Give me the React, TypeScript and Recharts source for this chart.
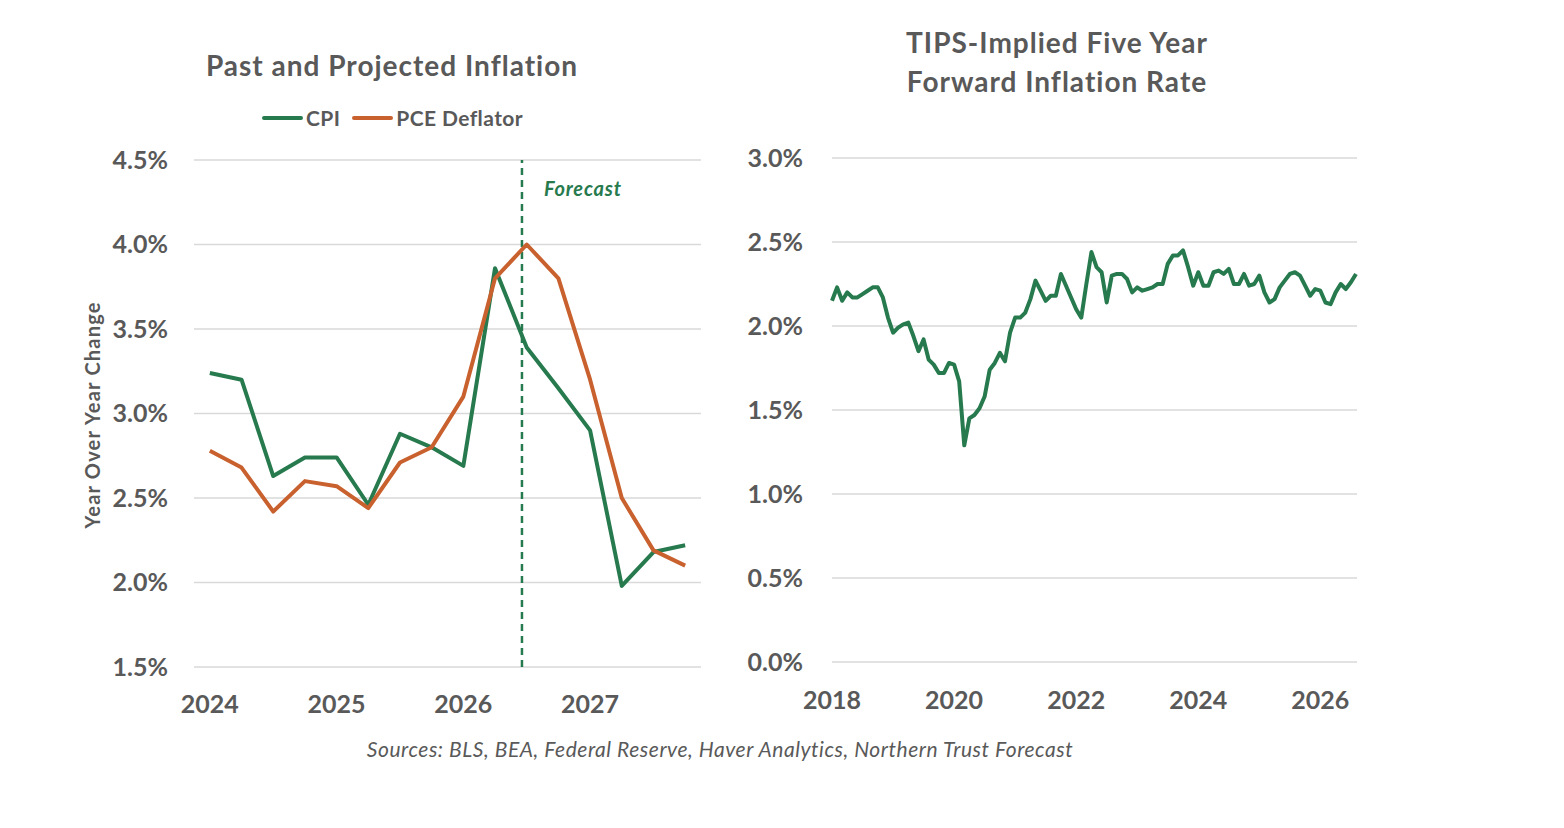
import React from 'react';
import {
  LineChart,
  Line,
  XAxis,
  YAxis,
  CartesianGrid,
  ReferenceLine
} from 'recharts';

// quarterly, 2024 Q1 .. 2027 Q4
const quarters = [
  '2024 Q1', '2024 Q2', '2024 Q3', '2024 Q4',
  '2025 Q1', '2025 Q2', '2025 Q3', '2025 Q4',
  '2026 Q1', '2026 Q2', '2026 Q3', '2026 Q4',
  '2027 Q1', '2027 Q2', '2027 Q3', '2027 Q4'
];
const cpi = [3.24, 3.2, 2.63, 2.74, 2.74, 2.46, 2.88, 2.8, 2.69, 3.86, 3.39, 3.15, 2.9, 1.98, 2.18, 2.22];
const pce = [2.78, 2.68, 2.42, 2.6, 2.57, 2.44, 2.71, 2.8, 3.1, 3.8, 4.0, 3.8, 3.2, 2.5, 2.19, 2.1];
const quarterTicks = [0, 4, 8, 12];
const quarterTickLabels = ['2024', '2025', '2026', '2027'];
const forecastStart = 9.85;
const inflationTicks = [1.5, 2.0, 2.5, 3.0, 3.5, 4.0, 4.5];

// monthly, Jan 2018 onward
const tipsStartYear = 2018;
const tips = [
  2.15, 2.23, 2.15, 2.2, 2.17, 2.17, 2.19, 2.21, 2.23, 2.23, 2.17, 2.05,
  1.96, 1.99, 2.01, 2.02, 1.94, 1.85, 1.92, 1.8, 1.77, 1.72, 1.72, 1.78,
  1.77, 1.67, 1.29, 1.45, 1.47, 1.51, 1.58, 1.74, 1.78, 1.84, 1.79, 1.96,
  2.05, 2.05, 2.08, 2.16, 2.27, 2.21, 2.15, 2.18, 2.18, 2.31, 2.24, 2.17,
  2.1, 2.05, 2.25, 2.44, 2.35, 2.32, 2.14, 2.3, 2.31, 2.31, 2.28, 2.2,
  2.23, 2.21, 2.22, 2.23, 2.25, 2.25, 2.37, 2.42, 2.42, 2.45, 2.35, 2.24,
  2.32, 2.24, 2.24, 2.32, 2.33, 2.31, 2.34, 2.25, 2.25, 2.31, 2.24, 2.25,
  2.3, 2.2, 2.14, 2.16, 2.23, 2.27, 2.31, 2.32, 2.3, 2.24, 2.18, 2.22,
  2.21, 2.14, 2.13, 2.2, 2.25, 2.22, 2.26, 2.31
];
const yearTicks = [2018, 2020, 2022, 2024, 2026];
const tipsTicks = [0, 0.5, 1.0, 1.5, 2.0, 2.5, 3.0];

const GREEN = '#277a4e';
const ORANGE = '#c9612f';
const GREY = '#595959';
const GRID = '#d9d9d9';
const FONT = 'Lato, "Open Sans", sans-serif';

const inflationData = quarters.map((q, i) => ({ idx: i, quarter: q, cpi: cpi[i], pce: pce[i] }));
const tipsData = tips.map((v, i) => ({ t: tipsStartYear + i / 12, value: v }));

const tickStyle = { fill: GREY, fontSize: 25, fontWeight: 700, fontFamily: FONT };
const pct = (v: number) => `${v.toFixed(1)}%`;

const ForecastLabel = (props: any) => {
  const { viewBox } = props;
  return (
    <text
      x={viewBox.x + 22}
      y={viewBox.y + 36}
      fill={GREEN}
      fontSize={20}
      fontStyle="italic"
      fontWeight={700}
      fontFamily={FONT}
      letterSpacing={0.8}
    >
      Forecast
    </text>
  );
};

const titleStyle: React.CSSProperties = {
  position: 'absolute',
  color: GREY,
  fontFamily: FONT,
  fontWeight: 700,
  fontSize: 28,
  textAlign: 'center',
  letterSpacing: 1,
  whiteSpace: 'nowrap'
};

export default function App() {
  return (
    <div style={{ position: 'absolute', left: 0, top: 0, width: 1564, height: 828, background: '#fff', fontFamily: FONT }}>
      <div style={{ ...titleStyle, left: 92, width: 600, top: 46, lineHeight: '38px' }}>
        Past and Projected Inflation
      </div>

      {/* legend */}
      <div style={{ position: 'absolute', left: 262, top: 105, display: 'flex', alignItems: 'center', color: GREY, fontWeight: 700, fontSize: 21, letterSpacing: 0.4, fontFamily: FONT }}>
        <span style={{ width: 41, height: 4, background: GREEN, borderRadius: 2, display: 'inline-block', marginRight: 3 }} />
        <span style={{ marginRight: 12 }}>CPI</span>
        <span style={{ width: 41, height: 4, background: ORANGE, borderRadius: 2, display: 'inline-block', marginRight: 3 }} />
        <span>PCE Deflator</span>
      </div>

      <div
        style={{
          position: 'absolute',
          left: 92,
          top: 415,
          transform: 'translate(-50%, -50%) rotate(-90deg)',
          color: GREY,
          fontWeight: 700,
          fontSize: 20,
          letterSpacing: 1.2,
          whiteSpace: 'nowrap'
        }}
      >
        Year Over Year Change
      </div>

      <div style={{ position: 'absolute', left: 0, top: 0 }}>
        <LineChart width={720} height={740} data={inflationData} margin={{ top: 160, right: 19, left: 94, bottom: 23 }}>
          <CartesianGrid vertical={false} stroke={GRID} strokeWidth={1.5} />
          <XAxis
            dataKey="idx"
            type="number"
            domain={[-0.5, 15.5]}
            ticks={quarterTicks}
            tickFormatter={(v: number) => quarterTickLabels[quarterTicks.indexOf(v)]}
            axisLine={false}
            tickLine={false}
            tickSize={0}
            tickMargin={28}
            height={50}
            tick={tickStyle}
            interval={0}
          />
          <YAxis
            domain={[1.5, 4.5]}
            ticks={inflationTicks}
            tickFormatter={pct}
            axisLine={false}
            tickLine={false}
            tickSize={0}
            tickMargin={26}
            width={100}
            tick={tickStyle}
            interval={0}
          />
          <ReferenceLine
            x={forecastStart}
            stroke={GREEN}
            strokeWidth={2.5}
            strokeDasharray="7 5"
            label={<ForecastLabel />}
          />
          <Line dataKey="cpi" stroke={GREEN} strokeWidth={4} dot={false} isAnimationActive={false} strokeLinejoin="round" />
          <Line dataKey="pce" stroke={ORANGE} strokeWidth={4} dot={false} isAnimationActive={false} strokeLinejoin="round" />
        </LineChart>
      </div>

      <div style={{ ...titleStyle, left: 757, width: 600, top: 23, lineHeight: '39px' }}>
        TIPS-Implied Five Year
        <br />
        Forward Inflation Rate
      </div>

      <div style={{ position: 'absolute', left: 700, top: 0 }}>
        <LineChart width={700} height={740} data={tipsData} margin={{ top: 158, right: 43, left: 32, bottom: 28 }}>
          <CartesianGrid vertical={false} stroke={GRID} strokeWidth={1.5} />
          <XAxis
            dataKey="t"
            type="number"
            domain={[2018, 2026.6]}
            ticks={yearTicks}
            axisLine={false}
            tickLine={false}
            tickSize={0}
            tickMargin={29}
            height={50}
            tick={tickStyle}
            interval={0}
          />
          <YAxis
            domain={[0, 3]}
            ticks={tipsTicks}
            tickFormatter={pct}
            axisLine={false}
            tickLine={false}
            tickSize={0}
            tickMargin={29}
            width={100}
            tick={tickStyle}
            interval={0}
          />
          <Line dataKey="value" stroke={GREEN} strokeWidth={4} dot={false} isAnimationActive={false} strokeLinejoin="round" />
        </LineChart>
      </div>

      <div
        style={{
          position: 'absolute',
          left: 0,
          width: 1440,
          top: 736,
          textAlign: 'center',
          color: GREY,
          fontStyle: 'italic',
          fontSize: 21,
          letterSpacing: 0.55,
          whiteSpace: 'nowrap'
        }}
      >
        Sources: BLS, BEA, Federal Reserve, Haver Analytics, Northern Trust Forecast
      </div>
    </div>
  );
}
